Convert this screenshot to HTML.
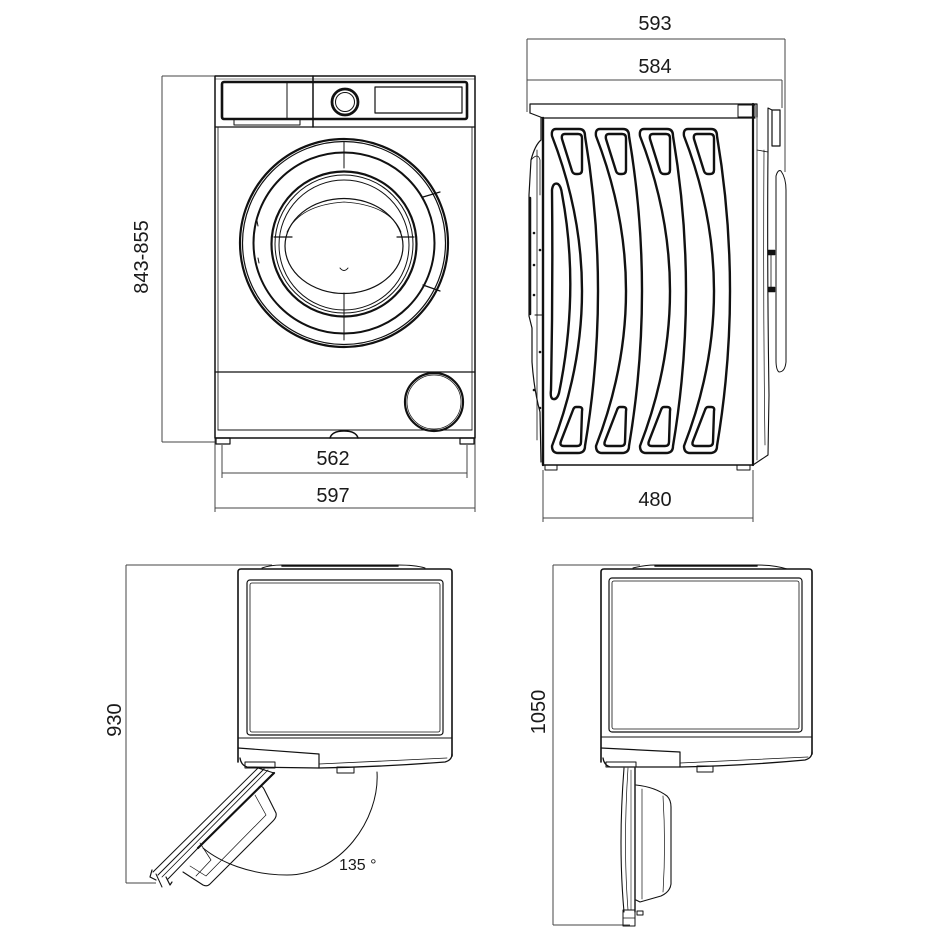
<!DOCTYPE html>
<html><head><meta charset="utf-8"><style>
html,body{margin:0;padding:0;background:#fff;}
svg{display:block;}
text{font-family:"Liberation Sans",Arial,sans-serif;fill:#1a1a1a;}
</style></head><body>
<svg width="950" height="950" viewBox="0 0 950 950" xmlns="http://www.w3.org/2000/svg">
<rect width="950" height="950" fill="#fff"/>

<!-- ============ DIMENSION LINES ============ -->
<g stroke="#444" stroke-width="1" fill="none">
  <line x1="162" y1="76" x2="162" y2="442"/>
  <line x1="162" y1="76" x2="215" y2="76"/>
  <line x1="162" y1="442" x2="216" y2="442"/>
  <line x1="222" y1="473" x2="467" y2="473"/>
  <line x1="222" y1="445" x2="222" y2="478"/>
  <line x1="467" y1="445" x2="467" y2="478"/>
  <line x1="215" y1="508" x2="475" y2="508"/>
  <line x1="215" y1="438" x2="215" y2="512"/>
  <line x1="475" y1="438" x2="475" y2="512"/>
  <line x1="527" y1="39" x2="785" y2="39"/>
  <line x1="527" y1="80" x2="782" y2="80"/>
  <line x1="527" y1="39" x2="527" y2="112"/>
  <line x1="785" y1="39" x2="785" y2="172"/>
  <line x1="782" y1="80" x2="782" y2="108"/>
  <line x1="543" y1="518" x2="753" y2="518"/>
  <line x1="543" y1="470" x2="543" y2="522"/>
  <line x1="753" y1="470" x2="753" y2="522"/>
  <line x1="126" y1="565" x2="126" y2="883"/>
  <line x1="126" y1="565" x2="272" y2="565"/>
  <line x1="126" y1="883" x2="156" y2="883"/>
  <line x1="553" y1="565" x2="553" y2="925"/>
  <line x1="553" y1="565" x2="640" y2="565"/>
  <line x1="553" y1="925" x2="630" y2="925"/>
</g>

<!-- ============ LABELS ============ -->
<text x="333" y="465" font-size="20" text-anchor="middle">562</text>
<text x="333" y="502" font-size="20" text-anchor="middle">597</text>
<text x="655" y="30" font-size="20" text-anchor="middle">593</text>
<text x="655" y="73" font-size="20" text-anchor="middle">584</text>
<text x="655" y="506" font-size="20" text-anchor="middle">480</text>
<text transform="translate(148,257) rotate(-90)" font-size="20" text-anchor="middle">843-855</text>
<text transform="translate(121,720) rotate(-90)" font-size="20" text-anchor="middle">930</text>
<text transform="translate(545,712) rotate(-90)" font-size="20" text-anchor="middle">1050</text>
<text x="339" y="870" font-size="16">135 °</text>

<!-- ============ FRONT VIEW ============ -->
<g fill="none" stroke="#111" stroke-linecap="round" stroke-linejoin="round">
  <rect x="215" y="76" width="260" height="362" stroke-width="1.5"/>
  <line x1="218" y1="127" x2="218" y2="430" stroke-width="0.8"/>
  <line x1="472" y1="127" x2="472" y2="430" stroke-width="0.8"/>
  <line x1="215" y1="79" x2="475" y2="79" stroke-width="0.6"/>
  <rect x="222" y="82" width="245" height="37" rx="2" stroke-width="2.6"/>
  <line x1="313" y1="76" x2="313" y2="127" stroke-width="1.5"/>
  <line x1="287" y1="82" x2="287" y2="119" stroke-width="1"/>
  <rect x="234" y="119" width="66" height="6" stroke-width="1"/>
  <circle cx="345" cy="102" r="13" stroke-width="2.8"/>
  <circle cx="345" cy="102" r="9.5" stroke-width="1"/>
  <rect x="375" y="87" width="87" height="26" stroke-width="1.2"/>
  <line x1="215" y1="127" x2="475" y2="127" stroke-width="1.2"/>
  <circle cx="344" cy="243" r="104" stroke-width="2.2"/>
  <circle cx="344" cy="243" r="101.5" stroke-width="1.2"/>
  <circle cx="344" cy="243" r="90.5" stroke-width="2"/>
  <circle cx="344" cy="244" r="72.5" stroke-width="2.2"/>
  <circle cx="344" cy="244" r="69" stroke-width="1"/>
  <circle cx="344" cy="245" r="65" stroke-width="1"/>
  <ellipse cx="344" cy="246" rx="59" ry="47.5" stroke-width="1.2"/>
  <path d="M287,232 Q300,205 344,202 Q390,205 401,232" stroke-width="0.8"/>
  <line x1="344" y1="142" x2="344" y2="168" stroke-width="1"/>
  <line x1="344" y1="293" x2="344" y2="340" stroke-width="1"/>
  <line x1="274" y1="237" x2="292" y2="237" stroke-width="1.2"/>
  <line x1="397" y1="237" x2="414" y2="237" stroke-width="1.2"/>
  <line x1="423" y1="197" x2="440" y2="192" stroke-width="1.2"/>
  <line x1="423" y1="285" x2="440" y2="291" stroke-width="1.2"/>
  <path d="M340,268 Q344,273 348,268" stroke-width="1"/>
  <line x1="257" y1="221" x2="258" y2="226" stroke-width="1"/>
  <line x1="258" y1="258" x2="259" y2="263" stroke-width="1"/>
  <line x1="215" y1="372" x2="475" y2="372" stroke-width="1.2"/>
  <circle cx="434" cy="402" r="29" stroke-width="2.2"/>
  <circle cx="434" cy="402" r="27" stroke-width="0.7"/>
  <line x1="218" y1="430" x2="472" y2="430" stroke-width="1"/>
  <path d="M330,438 Q332,431 344,431 Q356,431 358,438" stroke-width="1.5"/>
  <rect x="216" y="438" width="14" height="6" stroke-width="1.2"/>
  <rect x="460" y="438" width="14" height="6" stroke-width="1.2"/>
</g>

<!-- ============ SIDE VIEW ============ -->
<g fill="none" stroke="#111" stroke-linecap="round" stroke-linejoin="round">
  <path d="M530,113 L530,104 L757,104 L757,117" stroke-width="1.2"/>
  <path d="M530,113 L543,118 L755,118" stroke-width="1.2"/>
  <rect x="738" y="105" width="17" height="12" stroke-width="1"/>
  <line x1="543" y1="118" x2="543" y2="465" stroke-width="2.4"/>
  <line x1="753" y1="104" x2="753" y2="465" stroke-width="2.2"/>
  <line x1="543" y1="465" x2="753" y2="465" stroke-width="1.5"/>
  <line x1="757" y1="117" x2="757" y2="460" stroke-width="0.7"/>
  <rect x="545" y="465" width="12" height="5" stroke-width="1"/>
  <rect x="737" y="465" width="13" height="5" stroke-width="1"/>
  <path d="M541,118 L541,140 Q535,145 531,160 L529,195 L529,316 L532,328 L532,362 Q534,390 540,412 L541,462" stroke-width="1.2"/>
  <line x1="530" y1="198" x2="530" y2="314" stroke-width="2.5"/>
  <line x1="537" y1="150" x2="537" y2="440" stroke-width="0.8"/>
  <line x1="535" y1="315" x2="542" y2="315" stroke-width="1"/>
  <path d="M531,160 Q538,152 540,160 L540,195" stroke-width="0.8"/>
  <g fill="#111" stroke="none">
    <circle cx="534" cy="233" r="1.3"/><circle cx="534" cy="265" r="1.3"/>
    <circle cx="534" cy="295" r="1.3"/><circle cx="540" cy="250" r="1.3"/>
    <circle cx="540" cy="352" r="1.3"/><circle cx="540" cy="408" r="1.3"/>
    <circle cx="534" cy="390" r="1.3"/>
  </g>
  <path d="M768,108 L768,150 Q767,260 769,395 L768,455 L753,465" stroke-width="1.1"/>
  <path d="M764,150 Q763,300 765,445" stroke-width="0.7"/>
  <line x1="757" y1="150" x2="768" y2="152" stroke-width="0.8"/>
  <rect x="772" y="110" width="8" height="36" stroke-width="1.2"/>
  <line x1="768" y1="108" x2="772" y2="110" stroke-width="1"/>
  <path d="M776,176 Q778,169 781,171 Q786,178 786,190 L786,362 Q785,372 779,372 Q776,370 776,360 Z" stroke-width="1"/>
  <rect x="768" y="250" width="7" height="5" fill="#111" stroke-width="0.5"/>
  <rect x="768" y="287" width="7" height="5" fill="#111" stroke-width="0.5"/>
  <line x1="771" y1="255" x2="771" y2="287" stroke-width="0.8"/>
  <g stroke-width="2.4">
    <g id="band">
      <path d="M556,129 L579,129 Q585,129 585,136 Q611,291 585,446 Q585,453 578,453 L558,453 Q552,453 552,446 Q612,291 552,136 Q551,129 556,129 Z"/>
      <path d="M565,134 L578,134 Q582,134 582,138 L582,170 Q582,174 578,174 L576,174 Q573,174 572,171 L562,139 Q561,134 565,134 Z"/>
      <path d="M576,407 L579,407 Q583,407 582,411 L581,442 Q581,446 577,446 L564,446 Q559,446 561,441 L573,410 Q574,407 576,407 Z"/>
    </g>
    <use href="#band" transform="translate(44,0)"/>
    <use href="#band" transform="translate(88,0)"/>
    <use href="#band" transform="translate(132,0)"/>
    <path d="M552,190 Q553,182 558,184 Q561,186 562,194 Q580,290 559,393 Q557,400 553,399 Q550,398 551,390 Q553,290 552,190 Z"/>
  </g>
</g>

<!-- ============ TOP VIEW (DOOR 135°) ============ -->
<g fill="none" stroke="#111" stroke-linecap="round" stroke-linejoin="round">
  <path d="M262,568 Q270,565 282,565 L398,565 Q415,565 425,568" stroke-width="1"/>
  <path d="M282,566 L398,566" stroke-width="1.5"/>
  <path d="M238,762 L238,572 Q238,569 241,569 L449,569 Q452,569 452,572 L452,756" stroke-width="1.6"/>
  <rect x="247" y="580" width="196" height="155" rx="3" stroke-width="1.2"/>
  <rect x="250" y="583" width="190" height="149" rx="2" stroke-width="0.8"/>
  <line x1="238" y1="738" x2="452" y2="738" stroke-width="1"/>
  <path d="M238,748 L319,754 L319,768" stroke-width="1.2"/>
  <path d="M240,758 Q241,765 247,767 L319,768 Q380,767 445,762 Q452,760 452,754" stroke-width="1.3"/>
  <path d="M319,764 L447,758" stroke-width="0.8"/>
  <rect x="245" y="762" width="30" height="6" stroke-width="1"/>
  <rect x="337" y="767" width="17" height="6" stroke-width="1"/>
  <path d="M258,768 L153,872" stroke-width="1"/>
  <path d="M264,769 L158,875" stroke-width="1"/>
  <path d="M268,770 L162,877" stroke-width="0.8"/>
  <path d="M274,773 L198,848" stroke-width="2.2"/>
  <path d="M198,848 L168,879" stroke-width="1"/>
  <path d="M258,768 L274,773" stroke-width="1"/>
  <path d="M152,870 L150,877 L156,880" stroke-width="1.2"/>
  <path d="M166,877 L170,885 L172,882" stroke-width="1.2"/>
  <path d="M156,874 L162,887" stroke-width="1"/>
  <path d="M259,787 Q262,785 264,789 L276,813 Q277,817 273,821 L210,884 Q207,887 203,885 L183,872" stroke-width="1.1"/>
  <path d="M255,795 L266,815 L206,876 L190,866" stroke-width="0.7"/>
  <path d="M200,843 L211,860 L196,876" stroke-width="0.7"/>
  <path d="M377,772 C380,820 340,875 287,875 C250,875 220,862 203,848" stroke-width="1"/>
</g>

<!-- ============ TOP VIEW (DOOR 90°) ============ -->
<g fill="none" stroke="#111" stroke-linecap="round" stroke-linejoin="round">
  <path d="M633,568 Q645,565 655,565 L757,565 Q775,565 787,569" stroke-width="1"/>
  <path d="M655,566 L757,566" stroke-width="1.5"/>
  <path d="M601,762 L601,572 Q601,569 604,569 L809,569 Q812,569 812,572 L812,754" stroke-width="1.6"/>
  <rect x="609" y="578" width="193" height="154" rx="3" stroke-width="1.2"/>
  <rect x="612" y="581" width="187" height="148" rx="2" stroke-width="0.8"/>
  <line x1="601" y1="737" x2="812" y2="737" stroke-width="1"/>
  <path d="M601,748 L680,752 L680,767" stroke-width="1.2"/>
  <path d="M603,758 Q604,765 610,767 L680,767 Q740,766 805,760 Q812,758 812,752" stroke-width="1.3"/>
  <path d="M680,763 L808,757" stroke-width="0.8"/>
  <rect x="606" y="762" width="30" height="5" stroke-width="1"/>
  <rect x="697" y="766" width="16" height="6" stroke-width="1"/>
  <path d="M624,768 Q618,845 624,912" stroke-width="1.1"/>
  <path d="M628,768 Q623,845 628,910" stroke-width="0.7"/>
  <line x1="635" y1="768" x2="635" y2="912" stroke-width="1.4"/>
  <line x1="631" y1="770" x2="631" y2="910" stroke-width="0.6"/>
  <rect x="623" y="910" width="12" height="16" stroke-width="1"/>
  <line x1="623" y1="918" x2="635" y2="918" stroke-width="0.8"/>
  <rect x="637" y="911" width="6" height="4" stroke-width="1"/>
  <path d="M636,785 Q655,787 667,796 Q671,800 671,807 L671,884 Q670,892 661,896 L640,902 L636,900" stroke-width="1.1"/>
  <line x1="642" y1="789" x2="642" y2="899" stroke-width="0.7"/>
  <path d="M663,796 Q666,845 663,892" stroke-width="0.7"/>
</g>
</svg>
</body></html>
